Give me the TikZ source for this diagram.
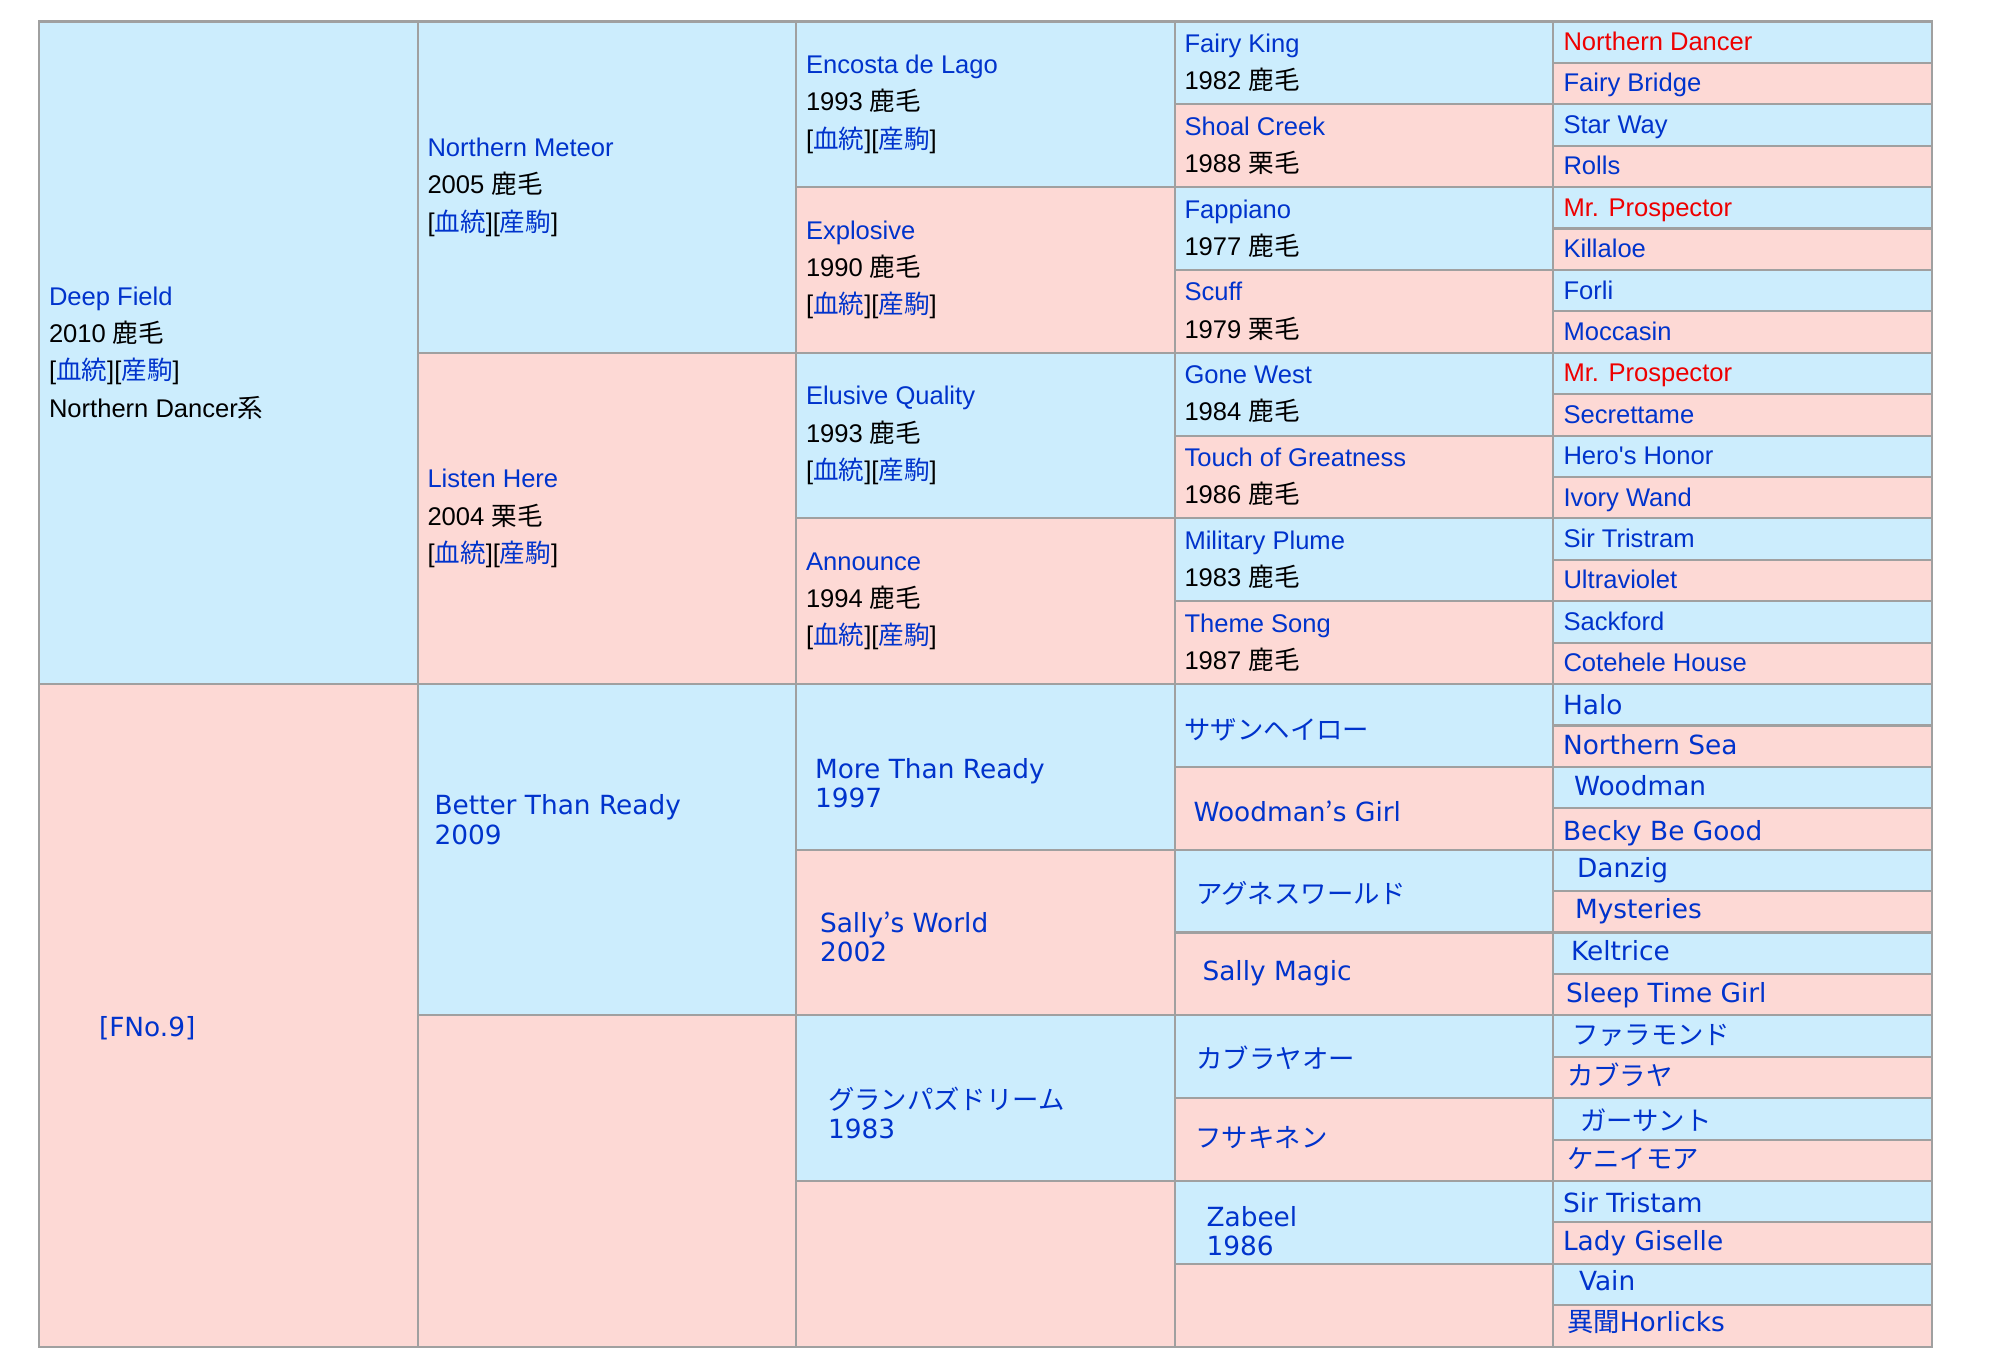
\documentclass[tikz,border=0pt]{standalone}
\usepackage{fontspec}
\setmainfont{Liberation Sans}
\newfontfamily\jpfont{Noto Sans CJK JP}
\newfontfamily\dvfont{DejaVu Sans}
\usepackage{xcolor}
\usetikzlibrary{positioning}

\definecolor{sireblue}{RGB}{204,237,253}
\definecolor{dampink}{RGB}{253,217,213}
\definecolor{linkblue}{RGB}{0,51,204}
\definecolor{chefred}{RGB}{238,0,0}
\definecolor{gridgray}{RGB}{160,160,160}

\newcommand{\jp}[1]{{\jpfont #1}}
\newcommand{\nm}[1]{{\color{linkblue}#1}}
\newcommand{\lnk}{[\nm{\jp{血統}}][\nm{\jp{産駒}}]}

\begin{document}
\begin{tikzpicture}[x=0.01cm,y=-0.01cm]
  \tikzset{
  cell/.style={draw=gridgray,line width=0.6pt,anchor=north west,inner sep=0pt,minimum width=3.785cm},
  hitxt/.style={inner sep=0pt,align=left,font=\fontsize{7.27}{10.6}\selectfont},
  lotxt/.style={inner sep=0pt,align=left,text=linkblue,font=\dvfont\fontsize{7.5}{8.3}\selectfont},
  oneline/.style={text height=1.5ex,text depth=0.6ex},
  }
  \useasboundingbox (0,0) rectangle (2000,1365);

  % the cells, one column per generation
  \foreach \l/\s/\m in {0/16/1,1/8/3,2/4/7,3/2/15,4/1/31}{
    \foreach \i in {0,...,\m}{
      \pgfmathtruncatemacro{\odd}{mod(\i,2)}
      \ifnum\odd=0 \def\cc{sireblue}\else\def\cc{dampink}\fi
      \node[cell,fill=\cc,minimum height=\s*0.4141cm] (c\l-\i) at ({38.3+\l*378.5},{20.4+\i*\s*41.41}) {};
    }
  }

  % sire side
  \node[hitxt, right=1mm of c0-0.west] (t0-0) {\nm{Deep Field}\\2010 \jp{鹿毛}\\\lnk\\Northern Dancer\jp{系}};
  \foreach \i/\t/\y/\c in {0/Northern Meteor/2005/鹿毛,1/Listen Here/2004/栗毛}
    \node[hitxt, right=1mm of c1-\i.west] (t1-\i) {\nm{\t}\\\y\ \jp{\c}\\\lnk};
  \foreach \i/\t/\y/\c in {0/Encosta de Lago/1993/鹿毛,1/Explosive/1990/鹿毛,
                           2/Elusive Quality/1993/鹿毛,3/Announce/1994/鹿毛}
    \node[hitxt, right=1mm of c2-\i.west] (t2-\i) {\nm{\t}\\\y\ \jp{\c}\\\lnk};
  \foreach \i/\t/\y/\c in {0/Fairy King/1982/鹿毛,1/Shoal Creek/1988/栗毛,
                           2/Fappiano/1977/鹿毛,3/Scuff/1979/栗毛,
                           4/Gone West/1984/鹿毛,5/Touch of Greatness/1986/鹿毛,
                           6/Military Plume/1983/鹿毛,7/Theme Song/1987/鹿毛}
    \node[hitxt, right=1mm of c3-\i.west] (t3-\i) {\nm{\t}\\\y\ \jp{\c}};
  \foreach \i/\t/\k in {0/Northern Dancer/chefred,1/Fairy Bridge/linkblue,
                        2/Star Way/linkblue,3/Rolls/linkblue,
                        4/Mr. Prospector/chefred,5/Killaloe/linkblue,
                        6/Forli/linkblue,7/Moccasin/linkblue,
                        8/Mr. Prospector/chefred,9/Secrettame/linkblue,
                        10/Hero\textquotesingle s Honor/linkblue,11/Ivory Wand/linkblue,
                        12/Sir Tristram/linkblue,13/Ultraviolet/linkblue,
                        14/Sackford/linkblue,15/Cotehele House/linkblue}
    \node[hitxt, oneline, text=\k, right=1.05mm of c4-\i.west] (t4-\i) {\t};

  % dam side
  \node[lotxt, right=6mm of c0-1.west, yshift=-1.3mm] (t0-1) {[FNo.9]};
  \node[lotxt, right=1.7mm of c1-2.west, yshift=3mm] (t1-2) {Better Than Ready\\2009};
  \foreach \i/\dx/\dy/\t in {4/1.9/-1.6/{More Than Ready\\1997},
                             5/2.4/-0.4/{Sally\jp{’}s World\\2002},
                             6/3.2/-1.5/{\jp{グランパズドリーム}\\1983}}
    \node[lotxt, right=\dx mm of c2-\i.west, yshift=\dy mm] (t2-\i) {\t};
  \foreach \i/\dx/\dy/\t in {8/1.0/-0.4/\jp{サザンヘイロー},
                             9/1.9/-0.3/{Woodman\jp{’}s Girl},
                             10/2.2/-0.2/\jp{アグネスワールド},
                             11/2.8/0.1/Sally Magic,
                             12/2.2/-0.1/\jp{カブラヤオー},
                             13/2.1/0.2/\jp{フサキネン},
                             14/3.2/-0.9/{Zabeel\\1986}}
    \node[lotxt, right=\dx mm of c3-\i.west, yshift=\dy mm] (t3-\i) {\t};
  \foreach \i/\dx/\dy/\t in {16/1.0/-0.1/Halo,17/1.0/0/Northern Sea,
                             18/2.1/0/Woodman,19/1.0/-0.3/Becky Be Good,
                             20/2.4/0.1/Danzig,21/2.2/0.2/Mysteries,
                             22/1.8/0.1/Keltrice,23/1.3/0/Sleep Time Girl,
                             24/1.9/0/\jp{ファラモンド},25/1.4/0/\jp{カブラヤ},
                             26/2.7/-0.3/\jp{ガーサント},27/1.4/0/\jp{ケニイモア},
                             28/1.0/-0.2/Sir Tristam,29/1.0/0.1/Lady Giselle,
                             30/2.6/0.2/Vain,31/1.4/0.3/{\jp{異聞}Horlicks}}
    \node[lotxt, oneline, right=\dx mm of c4-\i.west, yshift=\dy mm] (t4-\i) {\t};
\end{tikzpicture}
\end{document}
